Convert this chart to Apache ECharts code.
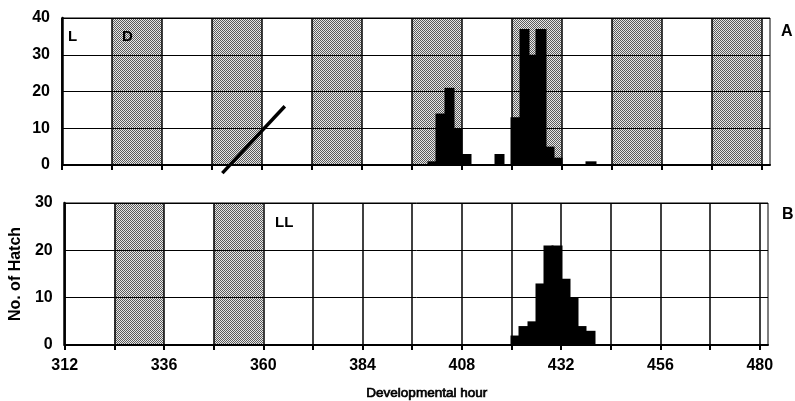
<!DOCTYPE html>
<html><head><meta charset="utf-8">
<script src="https://cdn.jsdelivr.net/npm/echarts@6/dist/echarts.min.js"></script>
<style>html,body{margin:0;padding:0;background:#fff}#c{width:795px;height:401px}</style>
</head><body><div id="c"></div>
<script>
// ---- data ----
const hourTicks = [312,324,336,348,360,372,384,396,408,420,432,444,456,468,480];
const hourLabels = [312,336,360,384,408,432,456,480];
const darkA = [[324,336],[348,360],[372,384],[396,408],[420,432],[444,456],[468,480]];
const darkB = [[324,336],[348,360]];
// [bin start, bin end, number of hatch]
const binsA = [[400,402,1],[402,404,14],[404,406,21],[406,408,10],[408,410,3],[416,418,3],
               [420,422,13],[422,424,37],[424,426,30],[426,428,37],[428,430,5],[430,432,2],[438,440,1]];
const binsB = [[420,422,2],[422,424,4],[424,426,5],[426,428,13],[428,430,21],[430,432,21],
               [432,434,14],[434,436,10],[436,438,4],[438,440,3]];
const slashA = [[350.5,-2.2],[365.5,16]];

const FONT = '"Liberation Sans", Arial, sans-serif';

// stipple pattern for dark phases
const pc = document.createElement('canvas'); pc.width = 2; pc.height = 2;
const cx = pc.getContext('2d');
cx.fillStyle = '#e8e8e8'; cx.fillRect(0,0,2,2);
cx.fillStyle = '#5c5c5c'; cx.fillRect(0,0,1,1); cx.fillRect(1,1,1,1);
const stipple = {image: pc, repeat: 'repeat'};

function renderBins(params, api) {
  const p0 = api.coord([api.value(0), 0]);
  const p1 = api.coord([api.value(1), api.value(2)]);
  const x0 = Math.floor(p0[0]), x1 = Math.ceil(p1[0]);
  return {type:'rect', shape:{x:x0 - 0.5, y:p1[1], width:x1 - x0 + 1, height:p0[1]-p1[1]},
          style:{fill:'#000'}};
}

function xAxisCfg(idx, showLabels) {
  return {
    gridIndex: idx, type: 'value', min: 312, max: 482, interval: 12, z: 3,
    axisLine: {show: true, onZero: false, lineStyle: {color: '#000', width: 2}},
    axisTick: {show: true, customValues: hourTicks, length: 5, lineStyle: {color: '#000', width: 2}},
    axisLabel: {show: showLabels, customValues: hourLabels, color: '#000', fontFamily: FONT, fontWeight: 'bold', fontSize: 16, margin: 13},
    splitLine: {show: true, lineStyle: {color: '#000', width: 1.5}}
  };
}
function yAxisCfg(idx, max, name) {
  return {
    gridIndex: idx, type: 'value', min: 0, max: max, interval: 10, z: 3,
    name: name, nameLocation: 'middle', nameGap: 33,
    nameTextStyle: {color: '#000', fontFamily: FONT, fontWeight: 'bold', fontSize: 16},
    axisLine: {show: true, lineStyle: {color: '#000', width: 2.5}},
    axisTick: {show: false},
    axisLabel: {color: '#000', fontFamily: FONT, fontWeight: 'bold', fontSize: 16, margin: 12},
    splitLine: {show: true, lineStyle: {color: '#000', width: 1}}
  };
}
function shade(idx, periods) {
  return {type: 'line', xAxisIndex: idx, yAxisIndex: idx, data: [], silent: true,
    markArea: {silent: true, itemStyle: {color: stipple}, data: periods.map(p => [{xAxis: p[0]}, {xAxis: p[1]}])}};
}
function txt(t, left, top, size) {
  return {type: 'text', left: left, top: top, z: 10,
    style: {text: t, fill: '#000', font: 'bold ' + size + 'px ' + FONT}};
}

const chart = echarts.init(document.getElementById('c'), null, {renderer: 'canvas'});
chart.setOption({
  animation: false,
  backgroundColor: '#fff',
  grid: [
    {left: 62, right: 25, top: 18, height: 147, show: true, borderColor: '#000', borderWidth: 1},
    {left: 62, right: 27, top: 203, height: 142, show: true, borderColor: '#000', borderWidth: 1}
  ],
  xAxis: [xAxisCfg(0, false), xAxisCfg(1, true)],
  yAxis: [yAxisCfg(0, 40, ''), yAxisCfg(1, 30, 'No. of Hatch')],
  series: [
    shade(0, darkA),
    shade(1, darkB),
    {type: 'custom', xAxisIndex: 0, yAxisIndex: 0, z: 5, renderItem: renderBins, encode: {x: [0,1], y: 2}, data: binsA},
    {type: 'custom', xAxisIndex: 1, yAxisIndex: 1, z: 5, renderItem: renderBins, encode: {x: [0,1], y: 2}, data: binsB},
    {type: 'line', xAxisIndex: 0, yAxisIndex: 0, z: 6, clip: false, symbol: 'none', data: slashA,
     lineStyle: {color: '#000', width: 3.5}}
  ],
  graphic: [
    txt('L', 68, 29, 15),
    txt('D', 122, 29, 15),
    txt('LL', 275, 215, 15),
    txt('A', 781, 24, 16),
    txt('B', 782, 207, 16),
    {type: 'text', left: 366, top: 386, z: 10,
     style: {text: 'Developmental hour', fill: '#000', stroke: '#000', lineWidth: 0.7, font: '13.5px ' + FONT}}
  ]
});
</script></body></html>
